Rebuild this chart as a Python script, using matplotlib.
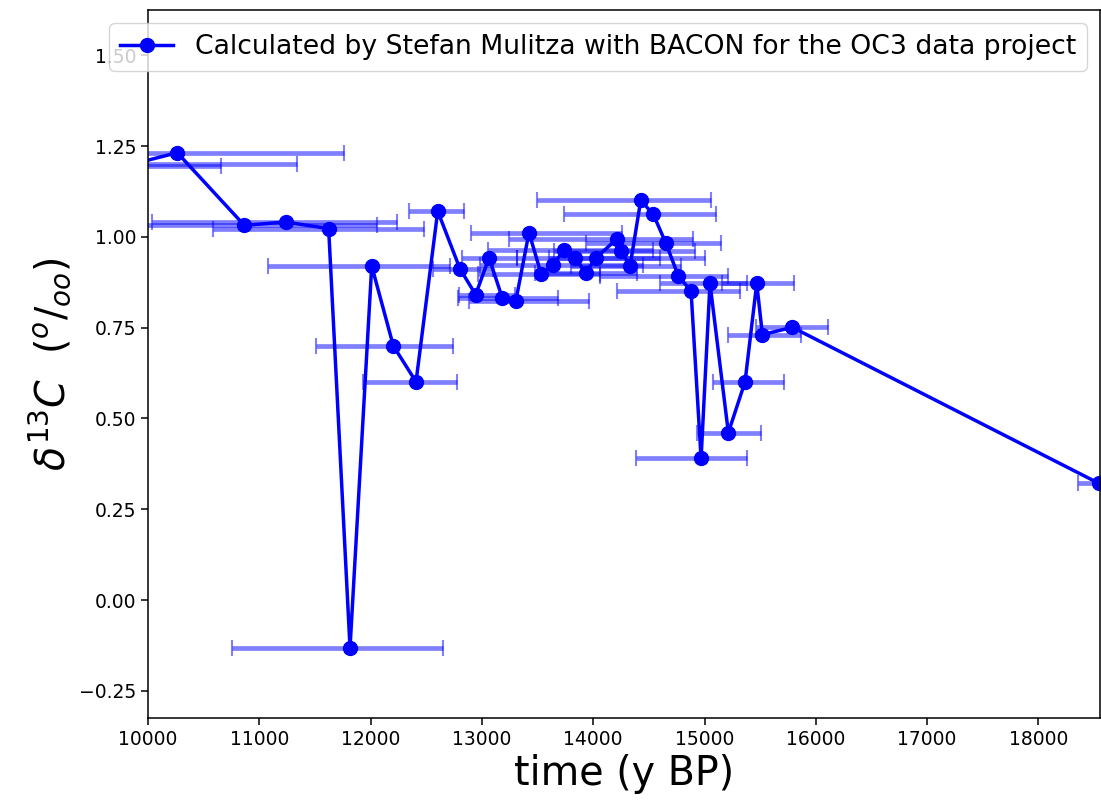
import numpy as np
import matplotlib
matplotlib.use("Agg")
import matplotlib.pyplot as plt

# age (y BP), d13C, and the lower/upper age bounds of each sample
time = [9600, 9880, 10263, 10865, 11237, 11623, 11815, 12010, 12204, 12408,
        12603, 12803, 12944, 13064, 13183, 13304, 13423, 13531, 13636, 13735,
        13837, 13933, 14023, 14211, 14250, 14331, 14427, 14540, 14654, 14765,
        14879, 14969, 15049, 15214, 15364, 15469, 15520, 15789, 18545]
d13c = [1.195, 1.202, 1.232, 1.032, 1.041, 1.023, -0.132, 0.920, 0.700, 0.601,
        1.071, 0.912, 0.841, 0.943, 0.832, 0.823, 1.012, 0.899, 0.922, 0.963,
        0.942, 0.901, 0.942, 0.994, 0.962, 0.920, 1.101, 1.062, 0.982, 0.892,
        0.851, 0.390, 0.872, 0.461, 0.601, 0.872, 0.731, 0.751, 0.321]
age_lo = [8500, 8400, 8770, 9675, 10033, 10584, 10755, 11075, 11507, 11929,
          12342, 12560, 12790, 12824, 12786, 12887, 12902, 12968, 12983, 13052,
          13313, 13475, 13600, 13246, 13650, 13800, 13492, 13741, 13933, 14061,
          14211, 14380, 14600, 14930, 15079, 15154, 15207, 15460, 18359]
age_hi = [10656, 11336, 11761, 12055, 12234, 12477, 12650, 12713, 12743, 12779,
          12839, 13100, 13300, 13313, 13681, 13962, 14262, 14061, 14451, 14537,
          14600, 14391, 15005, 14898, 14915, 14785, 15055, 15104, 15151, 15207,
          15319, 15379, 15379, 15505, 15714, 15807, 15867, 16107, 18740]

t = np.array(time, dtype=float)
xerr = [t - np.array(age_lo), np.array(age_hi) - t]

fig = plt.figure(figsize=(11.01, 8.09), dpi=100)
ax = fig.add_axes([148 / 1101, 91 / 809, 952 / 1101, 708 / 809])

ax.errorbar(t, d13c, xerr=xerr, fmt="none", ecolor="blue", alpha=0.5,
            elinewidth=3.4, capsize=5.5, capthick=1.5)
ax.plot(t, d13c, "o-", color="blue", lw=2.5, ms=10,
        label="Calculated by Stefan Mulitza with BACON for the OC3 data project")

ax.set_xlim(10000, 18553)
ax.set_ylim(-0.325, 1.625)
ax.set_yticks([-0.25, 0.0, 0.25, 0.5, 0.75, 1.0, 1.25, 1.5])
ax.set_yticklabels(["\u22120.25", "0.00", "0.25", "0.50", "0.75", "1.00", "1.25", "1.50"])
ax.tick_params(labelsize=13.5, length=4.8, width=1.1)
for s in ax.spines.values():
    s.set_linewidth(1.1)

ax.set_xlabel("time (y BP)", fontsize=28.5)
ax.set_ylabel(r"$\delta^{13}C\ \ (^{o}/_{oo})$", fontsize=28.5)
ax.legend(loc="upper right", fontsize=19.2)

fig.savefig("out.png", dpi=100)
